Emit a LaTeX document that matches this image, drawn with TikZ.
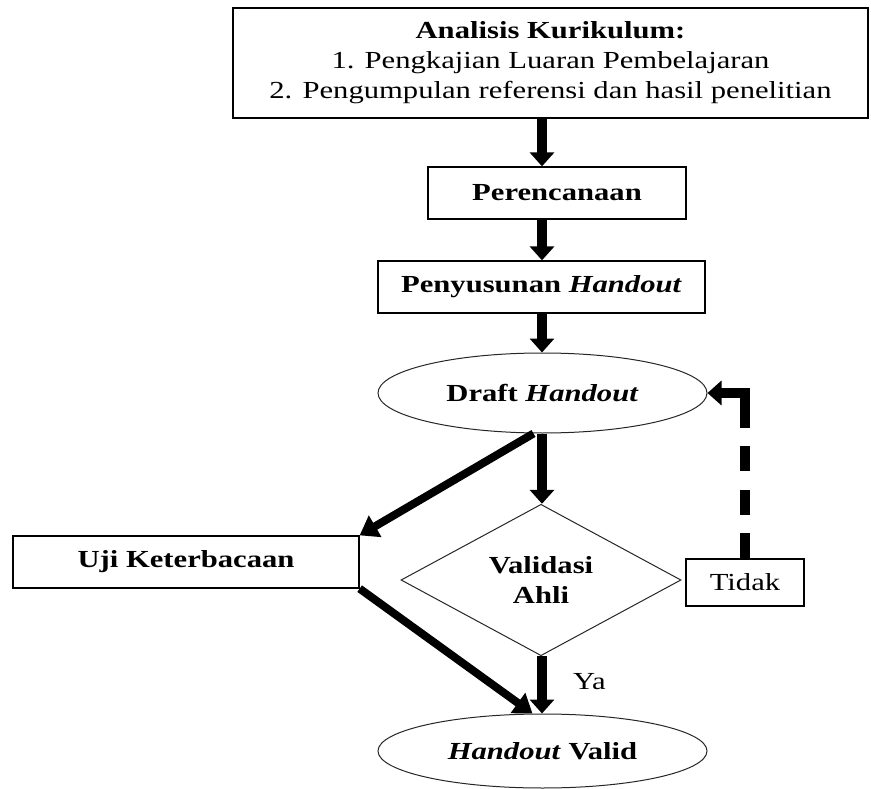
\documentclass[tikz,border=0pt]{standalone}
\usepackage{fontspec}
\setmainfont[FakeStretch=1.25]{Liberation Serif}
\usetikzlibrary{shapes.geometric,arrows.meta}

\begin{document}
\begin{tikzpicture}[x=1pt,y=-1pt,
  every node/.style={font=\fontsize{24.5}{30}\selectfont, inner sep=0pt, align=center},
  box/.style={draw, line width=1.3pt, rectangle},
  oval/.style={draw=black!85, ellipse, line width=1pt},
  dia/.style={draw=black!85, diamond, line width=1pt},
  arr/.style={line width=10pt, -{Triangle[length=14pt,width=24pt]}},
  darr/.style={line width=8pt, -{Triangle[length=18pt,width=24pt]}},
  fback/.style={line width=10pt, dash pattern=on 25pt off 18.5pt on 25pt off 18.5pt on 25pt off 18.5pt on 120pt off 0pt, -{Triangle[length=14pt,width=24pt]}},
]
\useasboundingbox (0,0) rectangle (871,789);

\node[box, minimum width=635pt, minimum height=110pt] (ak) at (550.5,63)
  {\textbf{Analisis Kurikulum:}\\1. Pengkajian Luaran Pembelajaran\\2. Pengumpulan referensi dan hasil penelitian};
\node[box, minimum width=258pt, minimum height=52pt] (per) at (557,193) {\textbf{Perencanaan}};
\node[box, minimum width=327pt, minimum height=52pt] (pen) at (541.5,287) {\textbf{Penyusunan \textit{Handout}}};
\node[oval, minimum width=329pt, minimum height=80pt] (draft) at (542.5,393) {\textbf{Draft \textit{Handout}}};
\node[dia, minimum width=280pt, minimum height=148pt] (val) at (541,580) {\textbf{Validasi}\\\textbf{Ahli}};
\node[box, minimum width=346pt, minimum height=52pt] (uji) at (186,562) {\textbf{Uji Keterbacaan}};
\node[box, minimum width=118pt, minimum height=47pt] (tidak) at (745,582.5) {Tidak};
\node[oval, minimum width=329pt, minimum height=74pt] (valid) at (542.5,751) {\textbf{\textit{Handout} Valid}};

\coordinate (ax) at (542,0);
\draw[arr] (ak.south -| ax) -- (per.north -| ax);
\draw[arr] (per.south -| ax) -- (pen.north -| ax);
\draw[arr] (pen.south -| ax) -- (draft.north -| ax);
\draw[arr] (draft.south -| ax) -- (val.north -| ax);
\draw[arr] (val.south -| ax) -- (valid.north -| ax)
  node[pos=0.45, anchor=west, xshift=26pt] {Ya};
\draw[darr] ([xshift=-9pt]draft.south) -- (uji.north east);
\draw[darr] (uji.south east) -- ([xshift=-10pt]valid.north);
\draw[fback] (tidak.north) |- (draft.east);
\end{tikzpicture}
\end{document}
